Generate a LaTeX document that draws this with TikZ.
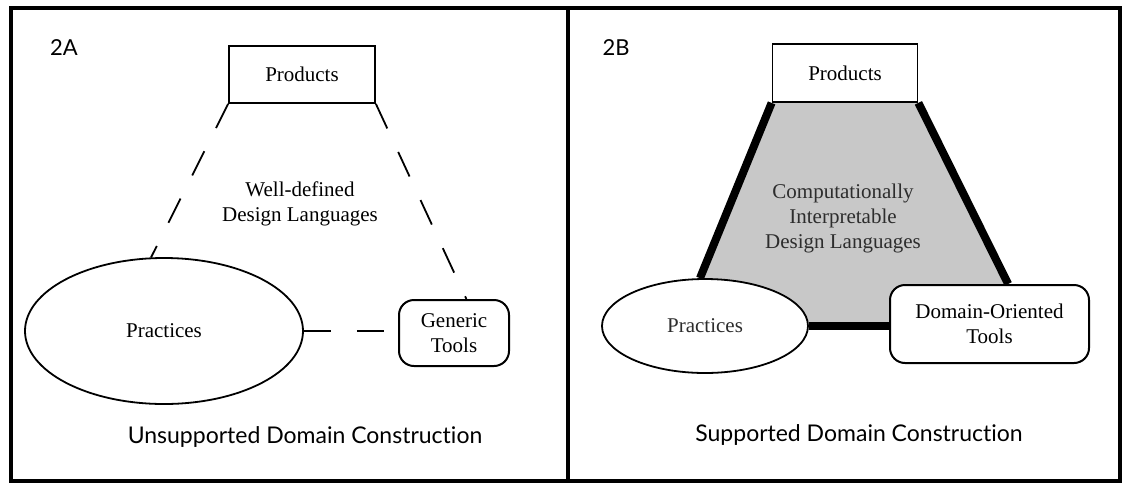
\documentclass[tikz,border=0pt]{standalone}
\usepackage{fontspec}
\setmainfont{Liberation Serif}
\newfontfamily\capfont[Ligatures=NoCommon]{Lato}
\usetikzlibrary{shapes.geometric,backgrounds}
\definecolor{fillgray}{RGB}{200,200,200}
\definecolor{txtgray}{RGB}{45,45,45}
\begin{document}
\begin{tikzpicture}[x=1pt,y=-1pt,
  lbl/.style={font=\fontsize{21}{25}\selectfont, align=center},
  box/.style={draw, line width=1.8pt, fill=white, inner sep=0pt},
  ell/.style={draw, ellipse, line width=1.8pt, fill=white, inner sep=0pt},
  rbox/.style={draw, rounded corners=15pt, line width=2pt, fill=white, inner sep=0pt},
  dashline/.style={line width=1.8pt, dash pattern=on 27pt off 26pt},
  heavy/.style={line width=8pt},
  captext/.style={font=\capfont\fontsize{23}{28}\selectfont},
  panel/.style={font=\capfont\fontsize{22}{26}\selectfont}
]
\useasboundingbox (0,0) rectangle (1122,483);
\draw[line width=3.5pt] (11,8) rectangle (1120,481);
\draw[line width=3.5pt] (568,8) -- (568,481);

% Panel 2A
\node[panel] (labA) at (64,48) {2A};
\node[box, lbl, minimum width=146pt, minimum height=57pt] (prodA) at (302,74.5) {Products};
\node[ell, lbl, minimum width=278pt, minimum height=146pt] (pracA) at (164,331) {Practices};
\node[rbox, lbl, minimum width=110pt, minimum height=66pt] (toolA) at (454,333) {Generic\\Tools};
\node[lbl] (langA) at (300,204) {Well-defined\\Design Languages};
\node[captext] (capA) at (305,437) {Unsupported Domain Construction};
\draw[dashline] (prodA.south west) -- (pracA.100);
\draw[dashline] (prodA.south east) -- (toolA.70);
\draw[dashline] (pracA.east) -- (pracA.east -| toolA.west);

% Panel 2B
\node[panel] (labB) at (616,48) {2B};
\node[box, lbl, minimum width=145pt, minimum height=58pt] (prodB) at (845,73) {Products};
\node[ell, lbl, minimum width=206pt, minimum height=94pt, text=txtgray] (pracB) at (705,326) {Practices};
\node[rbox, lbl, minimum width=199pt, minimum height=78pt] (toolB) at (989.5,324) {Domain-Oriented\\Tools};
\node[lbl, text=txtgray] (langB) at (843,218) {Computationally\\Interpretable\\Design Languages};
\node[captext] (capB) at (859,435) {Supported Domain Construction};
\begin{scope}[on background layer]
  \fill[fillgray] (prodB.south west) -- (prodB.south east) -- (toolB.65) -- (toolB.center) -- (pracB.center) -- (pracB.96) -- cycle;
  \draw[heavy] (prodB.south west) -- (pracB.96);
  \draw[heavy] (prodB.south east) -- (toolB.65);
  \draw[heavy] (pracB.east) -- (pracB.east -| toolB.west);
\end{scope}
\end{tikzpicture}
\end{document}
